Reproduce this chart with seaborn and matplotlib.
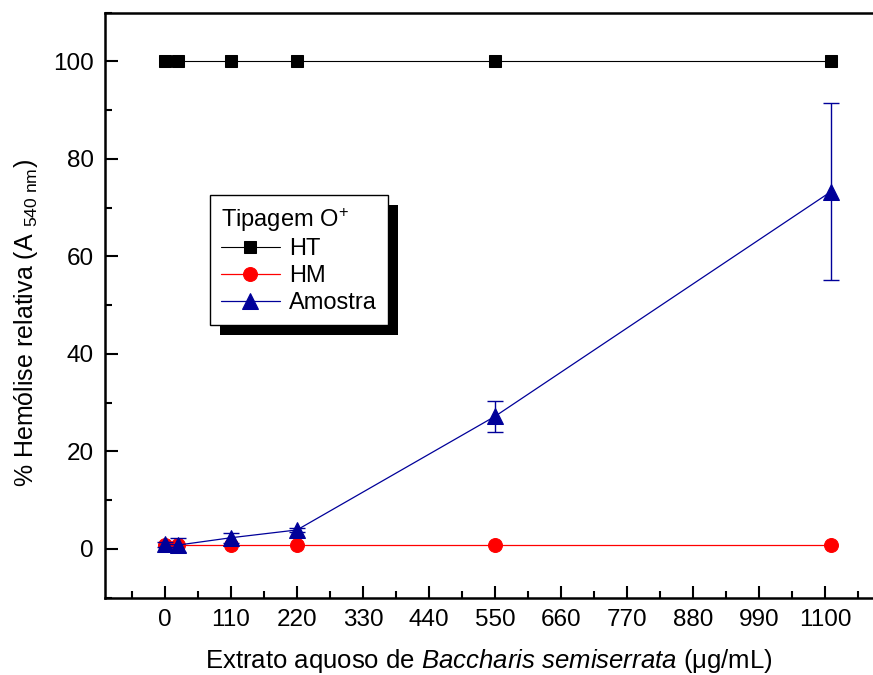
import matplotlib
matplotlib.use("Agg")
import matplotlib.pyplot as plt
import seaborn as sns
import pandas as pd
import numpy as np
from matplotlib.patches import Rectangle
from matplotlib.ticker import MultipleLocator

# ---- data ----
conc = [0, 22, 110, 220, 550, 1110]
ht = [100, 100, 100, 100, 100, 100]
hm = [0.8, 0.8, 0.8, 0.8, 0.8, 0.8]
amostra = [1.0, 0.8, 2.3, 3.9, 27.2, 73.3]
amostra_err = [0.5, 1.5, 1.0, 0.5, 3.2, 18.2]
xticks = [0, 110, 220, 330, 440, 550, 660, 770, 880, 990, 1100]
yticks = [0, 20, 40, 60, 80, 100]

sns.set_style("white")
plt.rcParams['font.family'] = ['Liberation Sans', 'DejaVu Sans']
plt.rcParams['mathtext.fontset'] = 'custom'
plt.rcParams['mathtext.rm'] = 'Liberation Sans'
plt.rcParams['mathtext.it'] = 'Liberation Sans:italic'
plt.rcParams['mathtext.bf'] = 'Liberation Sans:bold'
plt.rcParams['text.color'] = 'black'
plt.rcParams['axes.labelcolor'] = 'black'
plt.rcParams['xtick.color'] = 'black'
plt.rcParams['ytick.color'] = 'black'

fig = plt.figure(figsize=(8.73, 6.75), dpi=100)
ax = fig.add_axes([105/873, 1-597.7/675, 1-105/873, (597.7-12.7)/675])

df = pd.DataFrame({"conc": conc, "HT": ht, "HM": hm, "Amostra": amostra})
navy = "#000099"

sns.lineplot(data=df, x="conc", y="HT", ax=ax, color="black", lw=0.8, marker="s",
             markersize=8, markeredgecolor="black", label="HT", zorder=3)
sns.lineplot(data=df, x="conc", y="HM", ax=ax, color="red", lw=0.9, marker="o",
             markersize=10, markeredgecolor="red", label="HM", zorder=3)
ax.errorbar(conc, amostra, yerr=amostra_err, fmt="none", ecolor=navy, elinewidth=1.0,
            capsize=6, capthick=1.0, zorder=4)
sns.lineplot(data=df, x="conc", y="Amostra", ax=ax, color=navy, lw=0.9, marker="^",
             markersize=11, markeredgecolor=navy, label="Amostra", zorder=5)

ax.set_xlim(-100, 1180)
ax.set_ylim(-10, 110)
ax.set_xticks(xticks)
ax.set_yticks(yticks)
ax.xaxis.set_minor_locator(MultipleLocator(55))
ax.yaxis.set_minor_locator(MultipleLocator(10))
ax.tick_params(which="major", direction="in", length=9, width=1.5, labelsize=17.5,
               pad=8, color="black", labelcolor="black",
               bottom=True, left=True, top=False, right=False)
ax.tick_params(which="minor", direction="in", length=5, width=1.5,
               bottom=True, left=True, top=False, right=False)

for s in ["left", "bottom", "top"]:
    ax.spines[s].set_linewidth(1.8)
    ax.spines[s].set_color("black")
ax.spines["right"].set_visible(False)

ax.set_xlabel(r"Extrato aquoso de $\mathit{Baccharis\ semiserrata}$ ($\mathrm{\mu}$g/mL)",
              fontsize=18.5, labelpad=12)
ax.set_ylabel(r"% Hemólise relativa (A $_{\mathrm{540\ nm}}$)", fontsize=18, labelpad=8)
ax.yaxis.set_label_coords(-0.084, 0.47)

leg = ax.legend(title=r"Tipagem O$^{+}$", loc="upper left", bbox_to_anchor=(0.137, 0.688),
                fontsize=17, title_fontsize=17, frameon=True, fancybox=False,
                edgecolor="black", framealpha=1, handlelength=2.5, handletextpad=0.4,
                borderpad=0.45, labelspacing=0.2, alignment="left", borderaxespad=0)
leg.get_frame().set_linewidth(1.0)

fig.canvas.draw()
bb = leg.get_window_extent().transformed(ax.transAxes.inverted())
off_x = 10 / 768
off_y = 10 / 585
ax.add_patch(Rectangle((bb.x0 + off_x, bb.y0 - off_y), bb.width, bb.height,
                       transform=ax.transAxes, facecolor="black", edgecolor="none",
                       zorder=4.9, clip_on=False))

fig.savefig("out.png", dpi=100)
